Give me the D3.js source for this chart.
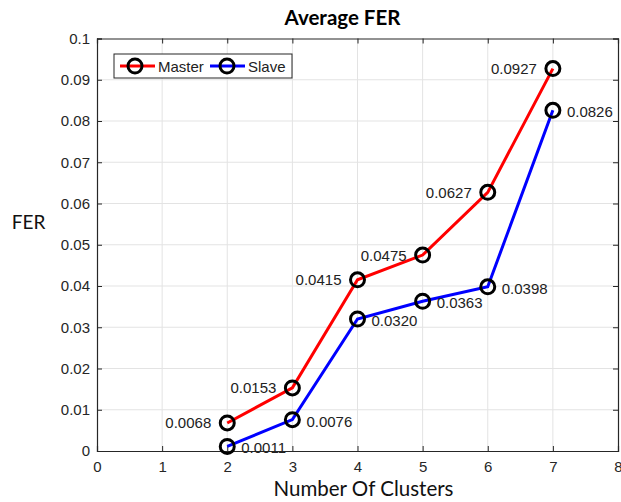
<!DOCTYPE html>
<html>
<head>
<meta charset="utf-8">
<script src="https://cdn.jsdelivr.net/npm/d3@7"></script>
<style>
  body { margin: 0; background: #fff; }
  svg { display: block; }
</style>
</head>
<body>
<svg id="chart" width="621" height="502"></svg>
<script>
const clusters = [2, 3, 4, 5, 6, 7];
const masterFER = [0.0068, 0.0153, 0.0415, 0.0475, 0.0627, 0.0927];
const slaveFER = [0.0011, 0.0076, 0.0320, 0.0363, 0.0398, 0.0826];
const masterLabels = ["0.0068", "0.0153", "0.0415", "0.0475", "0.0627", "0.0927"];
const slaveLabels = ["0.0011", "0.0076", "0.0320", "0.0363", "0.0398", "0.0826"];
const xTicks = [0, 1, 2, 3, 4, 5, 6, 7, 8];
const yTicks = [0, 0.01, 0.02, 0.03, 0.04, 0.05, 0.06, 0.07, 0.08, 0.09, 0.1];
const yTickLabels = ["0", "0.01", "0.02", "0.03", "0.04", "0.05", "0.06", "0.07", "0.08", "0.09", "0.1"];

(function () {
const svg = d3.select("#chart");
const L = 97, R = 618, T = 38.5, B = 451;
const x = d3.scaleLinear().domain([0, 8]).range([L, R]);
const y = d3.scaleLinear().domain([0, 0.1]).range([B, T]);

const axisColor = "#262626";
const gridColor = "#e3e3e3";
const tickFont = "Liberation Sans, Arial, sans-serif";
const labelFont = "Lato, 'Open Sans', sans-serif";

// grid
svg.append("g").selectAll("line").data(xTicks.slice(1, -1)).join("line")
  .attr("x1", d => x(d)).attr("x2", d => x(d)).attr("y1", T).attr("y2", B)
  .attr("stroke", gridColor).attr("stroke-width", 1);
svg.append("g").selectAll("line").data(yTicks.slice(1, -1)).join("line")
  .attr("y1", d => y(d)).attr("y2", d => y(d)).attr("x1", L).attr("x2", R)
  .attr("stroke", gridColor).attr("stroke-width", 1);

// axes
const fmtY = (d, i) => yTickLabels[i];
const gBottom = svg.append("g").attr("transform", `translate(0,${B})`)
  .call(d3.axisBottom(x).tickValues(xTicks).tickSize(-5).tickPadding(10).tickFormat(d3.format("d")));
const gTop = svg.append("g").attr("transform", `translate(0,${T})`)
  .call(d3.axisTop(x).tickValues(xTicks).tickSize(-5).tickFormat(""));
const gLeft = svg.append("g").attr("transform", `translate(${L},0)`)
  .call(d3.axisLeft(y).tickValues(yTicks).tickSize(-5).tickPadding(7).tickFormat(fmtY));
const gRight = svg.append("g").attr("transform", `translate(${R},0)`)
  .call(d3.axisRight(y).tickValues(yTicks).tickSize(-5).tickFormat(""));
[gBottom, gTop, gLeft, gRight].forEach(g => {
  g.select(".domain").attr("stroke", axisColor).attr("stroke-width", 1.2);
  g.selectAll(".tick line").attr("stroke", axisColor);
  g.selectAll(".tick text").attr("fill", axisColor).style("font-family", tickFont).style("font-size", "15px");
});

// lines
const line = d3.line().x(d => x(d[0])).y(d => y(d[1]));
const masterPts = clusters.map((c, i) => [c, masterFER[i]]);
const slavePts = clusters.map((c, i) => [c, slaveFER[i]]);
svg.append("path").datum(masterPts).attr("d", line).attr("fill", "none")
  .attr("stroke", "#ff0000").attr("stroke-width", 3);
svg.append("path").datum(slavePts).attr("d", line).attr("fill", "none")
  .attr("stroke", "#0000ff").attr("stroke-width", 3);

// markers
[masterPts, slavePts].forEach(pts => {
  svg.append("g").selectAll("circle").data(pts).join("circle")
    .attr("cx", d => x(d[0])).attr("cy", d => y(d[1])).attr("r", 7)
    .attr("fill", "none").attr("stroke", "#000").attr("stroke-width", 3);
});

// data labels
svg.append("g").selectAll("text").data(masterPts).join("text")
  .attr("x", d => x(d[0]) - 16).attr("y", d => y(d[1]) + 5.5)
  .attr("text-anchor", "end")
  .style("font-family", tickFont).style("font-size", "15px").attr("fill", "#222")
  .text((d, i) => masterLabels[i]);
svg.append("g").selectAll("text").data(slavePts).join("text")
  .attr("x", d => x(d[0]) + 14).attr("y", d => y(d[1]) + 7)
  .attr("text-anchor", "start")
  .style("font-family", tickFont).style("font-size", "15px").attr("fill", "#222")
  .text((d, i) => slaveLabels[i]);

// title & labels
svg.append("text").attr("x", 342.5).attr("y", 25).attr("text-anchor", "middle")
  .style("font-family", labelFont).style("font-weight", "bold").style("font-size", "20.5px")
  .attr("fill", "#000").text("Average FER");
svg.append("text").attr("x", 363.5).attr("y", 496).attr("text-anchor", "middle")
  .style("font-family", labelFont).style("font-size", "20.5px")
  .attr("fill", "#111").text("Number Of Clusters");
svg.append("text").attr("x", 28.5).attr("y", 229).attr("text-anchor", "middle")
  .style("font-family", labelFont).style("font-size", "19px")
  .attr("fill", "#111").text("FER");

// legend
const lg = svg.append("g");
lg.append("rect").attr("x", 114).attr("y", 54).attr("width", 178).attr("height", 24)
  .attr("fill", "#fff").attr("stroke", axisColor).attr("stroke-width", 1);
const legendItems = [
  { name: "Master", color: "#ff0000", x0: 120, cx: 135 },
  { name: "Slave", color: "#0000ff", x0: 210, cx: 227 }
];
legendItems.forEach(it => {
  lg.append("line").attr("x1", it.x0).attr("x2", it.x0 + 35).attr("y1", 66).attr("y2", 66)
    .attr("stroke", it.color).attr("stroke-width", 3);
  lg.append("circle").attr("cx", it.cx).attr("cy", 66).attr("r", 7)
    .attr("fill", "none").attr("stroke", "#000").attr("stroke-width", 3);
  lg.append("text").attr("x", it.x0 + 38).attr("y", 71.5)
    .style("font-family", tickFont).style("font-size", "15px").attr("fill", "#222").text(it.name);
});
})();
</script>
</body>
</html>
